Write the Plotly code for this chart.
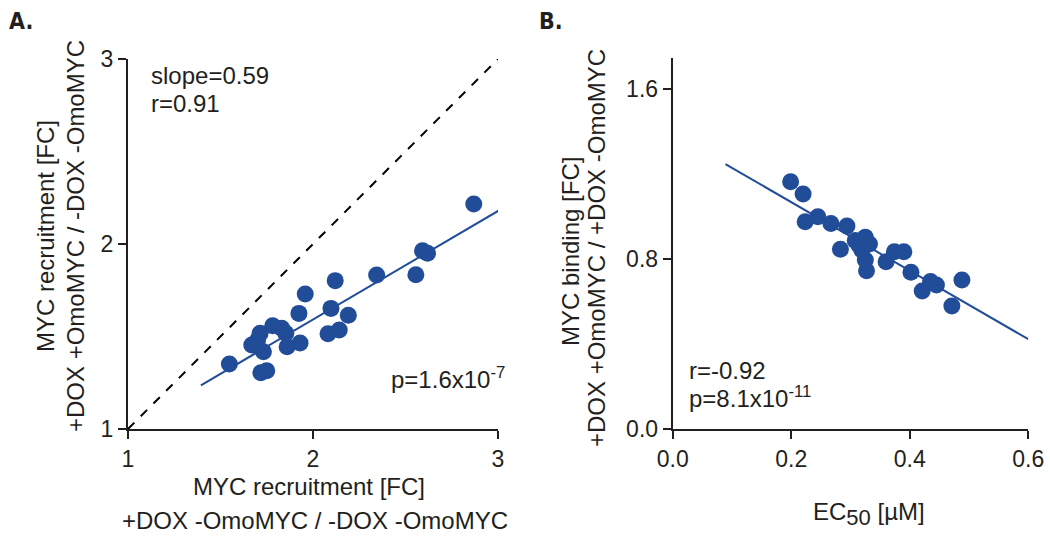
import plotly.graph_objects as go

# ---------------- data ----------------
# Panel A
a_x = [2.869, 2.592, 2.619, 2.556, 2.344, 2.120, 1.958, 1.924, 2.097, 2.191, 2.142, 2.081,
       1.930, 1.860, 1.853, 1.831, 1.782, 1.714, 1.669, 1.732, 1.718, 1.750, 1.548, 1.700]
a_y = [2.216, 1.964, 1.950, 1.834, 1.832, 1.802, 1.730, 1.625, 1.652, 1.615, 1.535, 1.515,
       1.465, 1.445, 1.517, 1.544, 1.558, 1.517, 1.454, 1.418, 1.304, 1.315, 1.351, 1.480]
a_fit_x = [1.394, 3.018]
a_fit_y = [1.236, 2.189]
a_identity = [1, 3]
a_ticks = [1, 2, 3]

# Panel B
b_x = [0.199, 0.220, 0.2235, 0.245, 0.267, 0.294, 0.283, 0.308, 0.325, 0.332, 0.319, 0.325,
       0.327, 0.360, 0.374, 0.390, 0.402, 0.421, 0.435, 0.445, 0.471, 0.488, 0.314]
b_y = [1.165, 1.107, 0.977, 1.000, 0.969, 0.957, 0.847, 0.888, 0.904, 0.872, 0.844, 0.797,
       0.746, 0.789, 0.836, 0.836, 0.739, 0.651, 0.695, 0.679, 0.580, 0.703, 0.867]
b_fit_x = [0.089, 0.600]
b_fit_y = [1.248, 0.424]
b_xticks = [0.0, 0.2, 0.4, 0.6]
b_xticklabels = ["0.0", "0.2", "0.4", "0.6"]
b_yticks = [0.0, 0.8, 1.6]
b_yticklabels = ["0.0", "0.8", "1.6"]

# ---------------- style ----------------
BLUE = "#214c98"
DARK = "#231f20"
FONT = "Arial"
FS = 24
TFS = 23
W, H = 1050, 538

def px(x):
    return x / W

def py(y):
    return 1 - y / H

fig = go.Figure()

# Panel A
fig.add_trace(go.Scatter(x=a_identity, y=a_identity, mode="lines",
                         line=dict(color="black", width=2, dash="dash"),
                         xaxis="x", yaxis="y", showlegend=False, hoverinfo="skip"))
fig.add_trace(go.Scatter(x=a_fit_x, y=a_fit_y, mode="lines",
                         line=dict(color=BLUE, width=2),
                         xaxis="x", yaxis="y", showlegend=False, hoverinfo="skip",
                         cliponaxis=False))
fig.add_trace(go.Scatter(x=a_x, y=a_y, mode="markers",
                         marker=dict(color=BLUE, size=17, line=dict(width=0)),
                         xaxis="x", yaxis="y", showlegend=False, cliponaxis=False))

# Panel B
fig.add_trace(go.Scatter(x=b_fit_x, y=b_fit_y, mode="lines",
                         line=dict(color=BLUE, width=2),
                         xaxis="x2", yaxis="y2", showlegend=False, hoverinfo="skip"))
fig.add_trace(go.Scatter(x=b_x, y=b_y, mode="markers",
                         marker=dict(color=BLUE, size=17, line=dict(width=0)),
                         xaxis="x2", yaxis="y2", showlegend=False, cliponaxis=False))

axis_common = dict(showline=True, linecolor=DARK, linewidth=2, ticks="outside",
                   ticklen=8, tickwidth=2, tickcolor=DARK, showgrid=False, zeroline=False,
                   tickfont=dict(family=FONT, size=TFS, color=DARK), mirror=False,
                   automargin=False)

fig.update_layout(
    width=W, height=H,
    margin=dict(l=0, r=0, t=0, b=0, pad=0),
    paper_bgcolor="white", plot_bgcolor="white",
    font=dict(family=FONT, size=FS, color=DARK),
    xaxis=dict(domain=[px(128), px(498)], range=[1, 3], tickvals=a_ticks,
               anchor="y", **axis_common),
    yaxis=dict(domain=[py(429), py(59)], range=[1, 3], tickvals=a_ticks,
               anchor="x", **axis_common),
    xaxis2=dict(domain=[px(672.7), px(1028.3)], range=[0, 0.6], tickvals=b_xticks,
                ticktext=b_xticklabels, anchor="y2", **axis_common),
    yaxis2=dict(domain=[py(429.3), py(58.3)], range=[0, 1.746], tickvals=b_yticks,
                ticktext=b_yticklabels, anchor="x2", **axis_common),
)

ann = []
def add_text(text, x, y, xanchor="center", yanchor="middle", angle=0, size=FS, family=FONT):
    ann.append(dict(text=text, x=px(x), y=py(y), xref="paper", yref="paper",
                    xanchor=xanchor, yanchor=yanchor, textangle=angle, showarrow=False,
                    font=dict(family=family, size=size, color=DARK)))

NARROW = "Liberation Sans Narrow, DejaVu Sans Condensed, Arial Narrow, sans-serif"
# panel labels
add_text("<b>A.</b>", 7, 21, xanchor="left", family=NARROW, size=23)
add_text("<b>B.</b>", 537, 21, xanchor="left", family=NARROW, size=23)

# Panel A stats
add_text("slope=0.59", 149, 75, xanchor="left")
add_text("r=0.91", 149, 103, xanchor="left")
add_text("p=1.6x10<sup>-7</sup>", 507, 378, xanchor="right")

# Panel A axis titles
add_text("MYC recruitment [FC]", 309, 486)
add_text("+DOX -OmoMYC / -DOX -OmoMYC", 315, 520)
add_text("MYC recruitment [FC]", 45, 236, angle=-90)
add_text("+DOX +OmoMYC / -DOX -OmoMYC", 75, 236, angle=-90)

# Panel B stats
add_text("r=-0.92", 687, 370, xanchor="left")
add_text("p=8.1x10<sup>-11</sup>", 687, 397, xanchor="left")

# Panel B axis titles
add_text("EC<sub><span style='font-size:22px'>50</span></sub> [µM]", 869, 514)
add_text("MYC binding [FC]", 571, 252, angle=-90)
add_text("+DOX +OmoMYC / +DOX -OmoMYC", 597, 248, angle=-90)

fig.update_layout(annotations=ann)

fig.write_html("out.html")
